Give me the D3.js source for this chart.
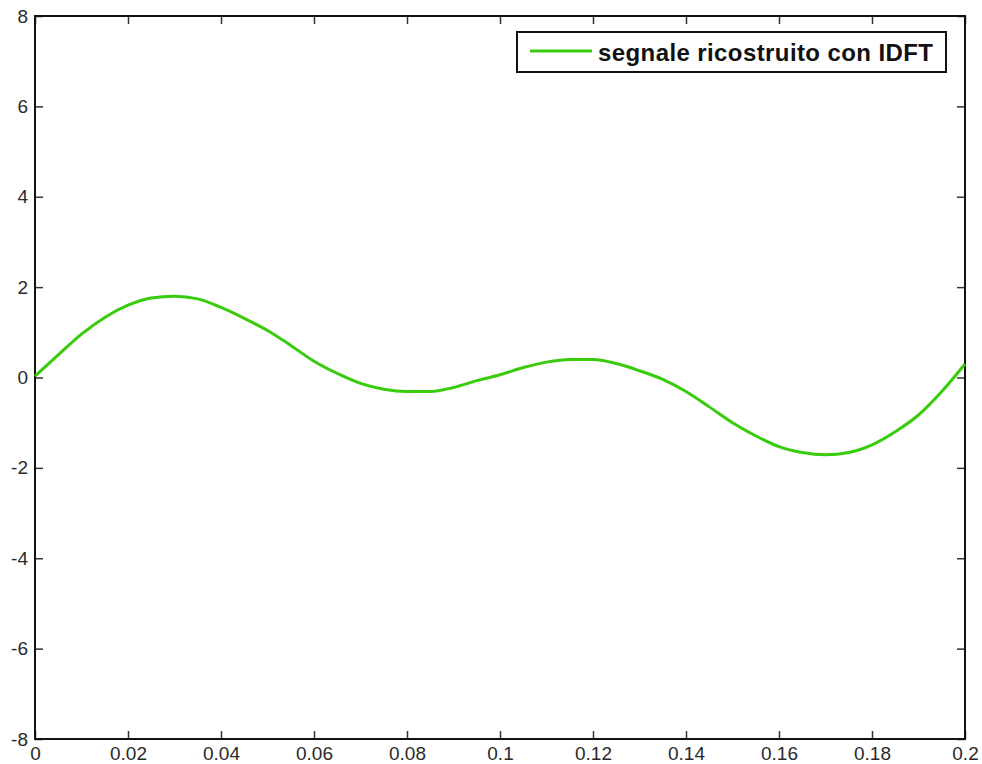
<!DOCTYPE html>
<html>
<head>
<meta charset="utf-8">
<script src="https://cdn.jsdelivr.net/npm/d3@7"></script>
<style>
  html, body { margin: 0; padding: 0; background: #fff; }
  svg { display: block; }
</style>
</head>
<body>
<svg id="chart" width="982" height="764"></svg>
<script>
// Time samples (s) and reconstructed signal values
const times = [0, 0.005, 0.01, 0.015, 0.02, 0.025, 0.03, 0.035, 0.04, 0.045,
  0.05, 0.055, 0.06, 0.065, 0.07, 0.075, 0.08, 0.085, 0.09, 0.095,
  0.1, 0.105, 0.11, 0.115, 0.12, 0.125, 0.13, 0.135, 0.14, 0.145,
  0.15, 0.155, 0.16, 0.165, 0.17, 0.175, 0.18, 0.185, 0.19, 0.195, 0.2];
const signal = [0.03, 0.5, 0.96, 1.33, 1.6, 1.76, 1.8, 1.74, 1.55, 1.31,
  1.04, 0.71, 0.36, 0.09, -0.13, -0.26, -0.31, -0.31, -0.22, -0.07,
  0.06, 0.22, 0.34, 0.4, 0.4, 0.31, 0.15, -0.04, -0.31, -0.65,
  -1.0, -1.29, -1.53, -1.66, -1.71, -1.66, -1.49, -1.2, -0.83, -0.31, 0.3];
const xTicks = [0, 0.02, 0.04, 0.06, 0.08, 0.1, 0.12, 0.14, 0.16, 0.18, 0.2];
const xTickLabels = ["0", "0.02", "0.04", "0.06", "0.08", "0.1", "0.12", "0.14", "0.16", "0.18", "0.2"];
const yTicks = [-8, -6, -4, -2, 0, 2, 4, 6, 8];
const yTickLabels = ["-8", "-6", "-4", "-2", "0", "2", "4", "6", "8"];
const legendLabel = "segnale ricostruito con IDFT";

const svg = d3.select("#chart");
const plotLeft = 35, plotRight = 965, plotTop = 16, plotBottom = 739;

const x = d3.scaleLinear().domain([0, 0.2]).range([plotLeft, plotRight]);
const y = d3.scaleLinear().domain([-8, 8]).range([plotBottom, plotTop]);

const font = "Liberation Sans, Arial, Helvetica, sans-serif";
const tickLen = 8;

function styleAxis(g) {
  g.select(".domain").remove();
  g.selectAll(".tick line").attr("stroke", "#333").attr("stroke-width", 1.5);
  g.selectAll(".tick text").attr("fill", "#2a2a2a")
    .style("font-family", font).style("font-size", "19px");
}

// Bottom axis with labels, ticks pointing inward
svg.append("g")
  .attr("transform", `translate(0,${plotBottom})`)
  .call(d3.axisBottom(x).tickValues(xTicks)
    .tickFormat((d, i) => xTickLabels[i])
    .tickSizeInner(-tickLen).tickSizeOuter(0).tickPadding(8))
  .call(styleAxis);

// Top axis: ticks only
svg.append("g")
  .attr("transform", `translate(0,${plotTop})`)
  .call(d3.axisTop(x).tickValues(xTicks).tickFormat("")
    .tickSizeInner(-tickLen).tickSizeOuter(0))
  .call(styleAxis);

// Left axis with labels
svg.append("g")
  .attr("transform", `translate(${plotLeft},0)`)
  .call(d3.axisLeft(y).tickValues(yTicks)
    .tickFormat((d, i) => yTickLabels[i])
    .tickSizeInner(-tickLen).tickSizeOuter(0).tickPadding(7))
  .call(styleAxis);

// Right axis: ticks only
svg.append("g")
  .attr("transform", `translate(${plotRight},0)`)
  .call(d3.axisRight(y).tickValues(yTicks).tickFormat("")
    .tickSizeInner(-tickLen).tickSizeOuter(0))
  .call(styleAxis);

// Plot frame
svg.append("rect")
  .attr("x", plotLeft).attr("y", plotTop)
  .attr("width", plotRight - plotLeft).attr("height", plotBottom - plotTop)
  .attr("fill", "none").attr("stroke", "#111").attr("stroke-width", 2);

// Signal line
const line = d3.line()
  .x((d, i) => x(times[i]))
  .y(d => y(d))
  .curve(d3.curveMonotoneX);

svg.append("path")
  .datum(signal)
  .attr("d", line)
  .attr("fill", "none")
  .attr("stroke", "#38cc0c")
  .attr("stroke-width", 3)
  .attr("stroke-linejoin", "round");

// Legend
const lg = svg.append("g");
lg.append("rect")
  .attr("x", 517).attr("y", 32).attr("width", 429).attr("height", 40)
  .attr("fill", "#fff").attr("stroke", "#111").attr("stroke-width", 2);
lg.append("line")
  .attr("x1", 530).attr("x2", 592).attr("y1", 51).attr("y2", 51)
  .attr("stroke", "#38cc0c").attr("stroke-width", 3);
lg.append("text")
  .attr("x", 598).attr("y", 61)
  .attr("fill", "#111")
  .attr("textLength", 335).attr("lengthAdjust", "spacing")
  .style("font-family", font).style("font-size", "24px").style("font-weight", "bold")
  .text(legendLabel);
</script>
</body>
</html>
